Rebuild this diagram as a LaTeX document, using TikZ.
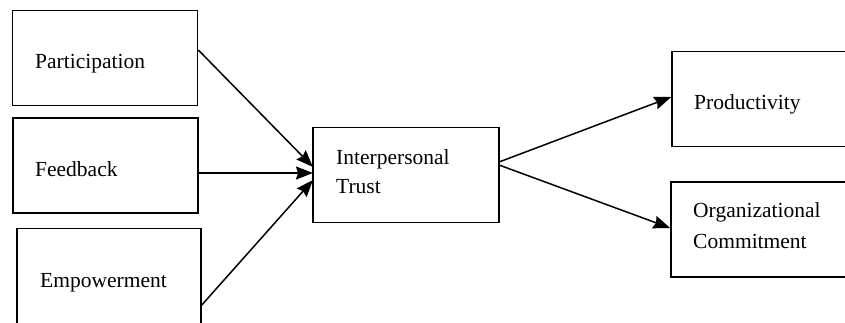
\documentclass[tikz,border=0pt]{standalone}
\usepackage{fontspec}
\setmainfont{Liberation Serif}
\usetikzlibrary{arrows.meta}
\begin{document}
\begin{tikzpicture}[x=1pt,y=-1pt,
  box/.style={draw,line width=1.6pt,minimum width=#1,minimum height=95pt,inner sep=0pt},
  box/.default=185pt,
  lbl/.style={anchor=base west,inner sep=0pt,font=\fontsize{21.5}{28}\selectfont},
  conn/.style={line width=1.5pt,-{Stealth[length=17pt,width=13pt,inset=2pt]}}]
\useasboundingbox (0,0) rectangle (845,322);
\node[box] (part) at (105,58) {};
\node[box] (feed) at (105.5,165.5) {};
\node[box=184pt] (emp) at (109,276) {};
\node[box=186pt] (trust) at (406,175) {};
\node[box=186pt] (prod) at (765,99) {};
\node[box=186pt] (org) at (764,229.5) {};
\node[lbl] (tpart) at (35,68) {Participation};
\node[lbl] (tfeed) at (35,176) {Feedback};
\node[lbl] (temp) at (40,287) {Empowerment};
\node[lbl] (ttrust1) at (336,164) {Interpersonal};
\node[lbl] (ttrust2) at (336,193) {Trust};
\node[lbl] (tprod) at (694,109) {Productivity};
\node[lbl] (torg1) at (693,217) {Organizational};
\node[lbl] (torg2) at (693,248) {Commitment};
\coordinate (tin1) at (313,167);
\coordinate (tin2) at (313,173);
\coordinate (tin3) at (313,180);
\coordinate (tout1) at (499,162);
\coordinate (tout2) at (499,165);
\draw[conn] (part.east |- 0,50) -- (tin1);
\draw[conn] (feed.east |- 0,173) -- (tin2);
\draw[conn] (emp.east |- 0,305) -- (tin3);
\draw[conn] (tout1) -- (prod.west |- 0,97);
\draw[conn] (tout2) -- (org.west |- 0,228);
\end{tikzpicture}
\end{document}
